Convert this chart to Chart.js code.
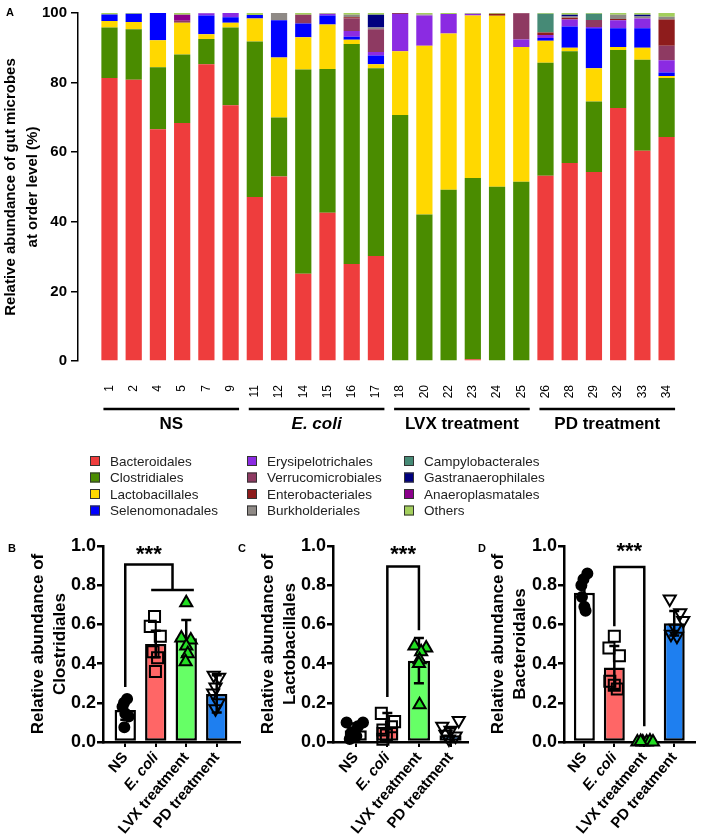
<!DOCTYPE html>
<html>
<head>
<meta charset="utf-8">
<title>Gut microbes at order level</title>
<script src="https://cdn.jsdelivr.net/npm/chart.js@4.4.1/dist/chart.umd.min.js"></script>
<style>
  body { margin: 0; background: #fff; }
  .wrap { position: relative; width: 705px; height: 840px; overflow: hidden; }
  canvas { position: absolute; }
</style>
</head>
<body>
<div class="wrap">
  <canvas id="chartA" width="705" height="522" style="left:0;top:0"></canvas>
  <canvas id="chartB" width="250" height="318" style="left:0;top:522px"></canvas>
  <canvas id="chartC" width="248" height="318" style="left:230px;top:522px"></canvas>
  <canvas id="chartD" width="227" height="318" style="left:478px;top:522px"></canvas>
</div>
<script>
// ---- Panel A: relative abundance (%) per mouse ----
const sampleIds = ['1', '2', '4', '5', '7', '9', '11', '12', '14', '15', '16', '17',
                   '18', '20', '22', '23', '24', '25', '26', '28', '29', '32', '33', '34'];
const groupNames = ['NS', 'E. coli', 'LVX treatment', 'PD treatment'];

const orderNames = ['Bacteroidales', 'Clostridiales', 'Lactobacillales', 'Selenomonadales',
                    'Erysipelotrichales', 'Verrucomicrobiales', 'Enterobacteriales', 'Burkholderiales',
                    'Campylobacterales', 'Gastranaerophilales', 'Anaeroplasmatales', 'Others'];

const bacteroidales      = [81.3, 80.8, 66.6, 68.4, 85.3, 73.5, 47.1, 53.0, 25.1, 42.6, 27.9, 30.2, 0, 0, 0, 0.5, 0, 0.2, 53.2, 56.9, 54.3, 72.7, 60.4, 64.4];
const clostridiales      = [14.5, 14.5, 17.8, 19.7, 7.2, 22.3, 44.7, 17.0, 58.7, 41.3, 63.2, 53.9, 70.7, 42.1, 49.2, 52.1, 50.1, 51.3, 32.5, 32.1, 20.3, 16.7, 26.2, 16.9];
const lactobacillales    = [1.9, 2.1, 7.8, 9.1, 1.4, 1.4, 6.6, 17.2, 9.2, 12.8, 1.2, 1.2, 18.3, 48.5, 44.9, 46.7, 49.1, 38.7, 6.3, 1.0, 9.5, 0.8, 3.4, 0.6];
const selenomonadales    = [1.9, 2.4, 7.8, 0, 5.4, 1.6, 1.0, 10.7, 4.0, 2.6, 0.9, 2.5, 0, 0, 0, 0, 0, 0, 0.8, 6.1, 11.5, 5.4, 5.6, 1.0];
const erysipelotrichales = [0, 0, 0, 0, 0.6, 1.2, 0, 0, 0, 0.5, 1.6, 1.0, 10.7, 8.7, 5.6, 0.5, 0, 2.2, 0.9, 2.0, 0.4, 2.3, 2.8, 3.5];
const verrucomicrobiales = [0, 0, 0, 0.6, 0, 0, 0, 0, 2.5, 0, 3.6, 6.5, 0.3, 0, 0, 0, 0, 7.5, 0, 0, 2.0, 0, 0, 4.2];
const enterobacteriales  = [0, 0, 0, 0, 0, 0, 0, 0, 0, 0, 0.4, 0, 0, 0, 0, 0, 0.6, 0.1, 0.7, 0.5, 0, 0.4, 0, 7.5];
const burkholderiales    = [0, 0, 0, 0, 0, 0, 0, 2.1, 0, 0, 0.7, 0.5, 0, 0.3, 0, 0, 0, 0, 0, 0.4, 0, 1.2, 0.6, 0.8];
const campylobacterales  = [0, 0, 0, 0, 0, 0, 0, 0, 0, 0, 0, 0, 0, 0, 0, 0, 0, 0, 5.4, 0, 1.8, 0, 0, 0];
const gastranaerophilales = [0, 0, 0, 0, 0, 0, 0, 0, 0, 0, 0, 3.7, 0, 0, 0, 0, 0, 0, 0, 0.5, 0, 0, 0.5, 0];
const anaeroplasmatales  = [0, 0, 0, 1.7, 0, 0, 0, 0, 0, 0, 0, 0, 0, 0, 0, 0, 0, 0, 0, 0, 0, 0, 0, 0];
const others             = [0.4, 0.2, 0, 0.5, 0.1, 0, 0.6, 0, 0.5, 0.2, 0.5, 0.5, 0, 0.4, 0.3, 0.2, 0.2, 0, 0.2, 0.5, 0.2, 0.5, 0.5, 1.1];

const orderValues = [bacteroidales, clostridiales, lactobacillales, selenomonadales, erysipelotrichales,
                     verrucomicrobiales, enterobacteriales, burkholderiales, campylobacterales,
                     gastranaerophilales, anaeroplasmatales, others];

// ---- Panels B-D: fraction per group (bar = mean, whisker = SD, markers = mice) ----
const clostridialesMean = [0.163, 0.500, 0.529, 0.245];
const clostridialesSd = [0.05, 0.068, 0.093, 0.095];
const clostridialesPoints = [
  [0.22, 0.20, 0.18, 0.145, 0.13, 0.075],
  [0.64, 0.59, 0.54, 0.46, 0.43, 0.36],
  [0.71, 0.53, 0.52, 0.49, 0.45, 0.41],
  [0.34, 0.33, 0.28, 0.25, 0.20, 0.17]
];

const lactobacillalesMean = [0.06, 0.078, 0.415, 0.035];
const lactobacillalesSd = [0.035, 0.07, 0.115, 0.035];
const lactobacillalesPoints = [
  [0.10, 0.10, 0.08, 0.05, 0.03, 0.015],
  [0.146, 0.104, 0.078, 0.061, 0.036, 0.014],
  [0.49, 0.48, 0.46, 0.42, 0.40, 0.19],
  [0.11, 0.08, 0.06, 0.04, 0.03, 0.015]
];

const bacteroidalesMean = [0.762, 0.38, 0.0, 0.606];
const bacteroidalesSd = [0.075, 0.11, 0.002, 0.062];
const bacteroidalesPoints = [
  [0.86, 0.83, 0.80, 0.74, 0.69, 0.67],
  [0.54, 0.48, 0.44, 0.31, 0.29, 0.27],
  [0, 0, 0, 0.005, 0, 0.002],
  [0.73, 0.66, 0.62, 0.58, 0.55, 0.54]
];

// styles
const FONT = '"Liberation Sans", Arial, sans-serif';
Chart.defaults.font.family = FONT;
Chart.defaults.color = '#000';

const orderColors = ['#ee3d3d', '#4a8c00', '#ffd800', '#0000ff', '#8b2be2', '#8e3a62',
                     '#8e1c1c', '#8f8a86', '#468a76', '#00007f', '#8b008b', '#a3cf5c'];
const groupFill = ['#ffffff', '#ff6666', '#66ff66', '#1e7ff0'];
const markerStyle = ['circle', 'rect', 'triangle', 'triangle'];
const markerRotation = [0, 0, 0, 180];
const markerRadius = [5, 7.8, 7, 7];
const markerFill = ['#000000', 'rgba(0,0,0,0)', '#22dd22', 'rgba(0,0,0,0)'];

// horizontal scatter of the markers inside each bar (x offset in bar units)
const jitterB = [[0.06, -0.04, -0.09, 0, 0.11, -0.03], [-0.04, -0.18, 0.15, -0.09, 0.06, -0.01],
                 [0, -0.16, 0.15, 0, 0.05, -0.02], [-0.1, 0.08, -0.04, -0.12, 0.06, -0.04]];
const jitterC = [[-0.29, 0.23, 0.07, -0.13, 0.02, -0.19], [-0.19, 0.23, 0.13, -0.14, -0.03, -0.14],
                 [-0.14, 0.23, 0.07, 0.02, 0, 0.02], [0.26, -0.26, 0, -0.16, 0.16, -0.05]];
const jitterD = [[0.1, -0.03, -0.1, -0.08, 0, 0.04], [0, -0.18, 0.17, -0.15, 0, 0.1],
                 [-0.23, -0.05, 0.08, 0.19, 0.29, -0.12], [-0.15, 0.2, 0.3, 0.04, -0.11, 0.09]];

// ---- panel A extras: group brackets under the ids, legend, letter ----
const panelAExtras = {
  id: 'panelAExtras',
  afterDraw(chart) {
    const ctx = chart.ctx;
    const xs = chart.scales.x;
    const base = chart.chartArea.bottom;
    ctx.save();
    ctx.strokeStyle = '#000';
    ctx.fillStyle = '#000';
    ctx.lineWidth = 2.5;
    groupNames.forEach((name, g) => {
      const x0 = xs.getPixelForValue(g * 6 - 0.25);
      const x1 = xs.getPixelForValue(g * 6 + 5 + 0.35);
      ctx.beginPath();
      ctx.moveTo(x0, base + 48);
      ctx.lineTo(x1, base + 48);
      ctx.stroke();
      ctx.font = (name === 'E. coli' ? 'italic ' : '') + 'bold 17px ' + FONT;
      ctx.textAlign = 'center';
      ctx.textBaseline = 'middle';
      ctx.fillText(name, (x0 + x1) / 2, base + 63);
    });

    // legend: three columns of four
    const colX = [90, 247, 404];
    const rowY = [461, 477.5, 494, 510.5];
    ctx.font = '13.5px ' + FONT;
    ctx.textAlign = 'left';
    ctx.lineWidth = 1;
    orderNames.forEach((name, k) => {
      const x = colX[Math.floor(k / 4)];
      const y = rowY[k % 4];
      ctx.fillStyle = orderColors[k];
      ctx.fillRect(x, y - 5, 10, 10);
      ctx.strokeStyle = '#333';
      ctx.strokeRect(x + 0.5, y - 4.5, 9, 9);
      ctx.fillStyle = '#222';
      ctx.fillText(name, x + 20, y + 1);
    });

    ctx.fillStyle = '#000';
    ctx.font = 'bold 11px ' + FONT;
    ctx.fillText('A', 6, 13);
    ctx.restore();
  }
};

new Chart(document.getElementById('chartA'), {
  type: 'bar',
  data: {
    datasets: orderNames.map((name, k) => ({
      label: name,
      data: orderValues[k].map((v, i) => ({ x: i, y: v })),
      backgroundColor: orderColors[k],
      borderWidth: 0,
      barPercentage: 0.67,
      categoryPercentage: 1
    }))
  },
  plugins: [panelAExtras],
  options: {
    responsive: false,
    animation: false,
    devicePixelRatio: 1,
    layout: { padding: { top: 5, left: 0, right: 0, bottom: 0 } },
    plugins: { legend: { display: false }, tooltip: { enabled: false } },
    scales: {
      x: {
        type: 'linear',
        stacked: true,
        min: -1.3,
        max: 23.48,
        offset: false,
        afterBuildTicks: s => { s.ticks = sampleIds.map((_, i) => ({ value: i })); },
        afterFit: s => { s.height = 161; },
        border: { display: false },
        grid: { display: false, drawTicks: false, offset: false },
        ticks: {
          autoSkip: false,
          minRotation: 90,
          maxRotation: 90,
          padding: 24,
          color: '#000',
          font: { size: 12 },
          callback: v => sampleIds[v]
        }
      },
      y: {
        stacked: true,
        min: 0,
        max: 100,
        afterFit: s => { s.width = 78; },
        border: { color: '#000', width: 1.5 },
        grid: { drawOnChartArea: false, tickLength: 7, color: '#000', lineWidth: 1.5 },
        ticks: { stepSize: 20, padding: 4, color: '#000', font: { size: 15, weight: 'bold' } },
        title: {
          display: true,
          text: ['Relative abundance of gut microbes', 'at order level (%)'],
          color: '#000',
          font: { size: 15, weight: 'bold', lineHeight: 1.45 },
          padding: { top: 0, bottom: 0 }
        }
      }
    }
  }
});

// ---- panels B-D ----
const dotBarExtras = {
  id: 'dotBarExtras',
  afterDatasetDraw(chart, args, opts) {
    if (args.index !== 0) return;
    const ys = chart.scales.y;
    const ctx = chart.ctx;
    ctx.save();
    ctx.strokeStyle = '#000';
    ctx.lineWidth = 2.5;
    args.meta.data.forEach((bar, i) => {
      const m = opts.means[i];
      const sd = opts.sds[i];
      const top = ys.getPixelForValue(m + sd);
      const bot = ys.getPixelForValue(Math.max(0, m - sd));
      ctx.beginPath();
      ctx.moveTo(bar.x, top); ctx.lineTo(bar.x, bot);
      ctx.moveTo(bar.x - 5, top); ctx.lineTo(bar.x + 5, top);
      ctx.moveTo(bar.x - 5, bot); ctx.lineTo(bar.x + 5, bot);
      ctx.stroke();
    });
    ctx.restore();
  },
  afterDraw(chart, args, opts) {
    const xs = chart.scales.x;
    const ys = chart.scales.y;
    const ctx = chart.ctx;
    ctx.save();
    ctx.strokeStyle = '#000';
    ctx.lineWidth = 2.5;
    opts.brackets.forEach(path => {
      ctx.beginPath();
      path.forEach(([x, y], j) => {
        const px = xs.getPixelForValue(x);
        const py = ys.getPixelForValue(y);
        if (j === 0) ctx.moveTo(px, py); else ctx.lineTo(px, py);
      });
      ctx.stroke();
    });
    ctx.fillStyle = '#000';
    ctx.font = 'bold 22px ' + FONT;
    ctx.textAlign = 'center';
    ctx.textBaseline = 'alphabetic';
    ctx.fillText('***', xs.getPixelForValue(opts.star[0]), ys.getPixelForValue(opts.star[1]) + 12);
    ctx.font = 'bold 11px ' + FONT;
    ctx.textAlign = 'left';
    ctx.fillText(opts.letter, opts.letterX, 30);
    ctx.restore();
  }
};

function makeDotBarChart(canvasId, p) {
  const datasets = [{
    type: 'bar',
    order: 1,
    data: p.means.map((m, i) => ({ x: i, y: m })),
    backgroundColor: groupFill,
    borderColor: '#000',
    borderWidth: 2.5,
    borderSkipped: false,
    barPercentage: 0.7,
    categoryPercentage: 1
  }];
  p.points.forEach((vals, g) => {
    datasets.push({
      type: 'scatter',
      order: 0,
      data: vals.map((v, j) => ({ x: g + p.jitter[g][j], y: v })),
      pointStyle: markerStyle[g],
      pointRotation: markerRotation[g],
      pointRadius: markerRadius[g],
      pointBackgroundColor: markerFill[g],
      pointBorderColor: '#000',
      pointBorderWidth: 2,
      clip: false
    });
  });

  return new Chart(document.getElementById(canvasId), {
    type: 'bar',
    data: { datasets },
    plugins: [dotBarExtras],
    options: {
      responsive: false,
      animation: false,
      devicePixelRatio: 1,
      layout: { padding: { top: 24, right: p.padRight, left: 0, bottom: 0 } },
      plugins: {
        legend: { display: false },
        tooltip: { enabled: false },
        dotBarExtras: {
          means: p.means, sds: p.sds, brackets: p.brackets, star: p.star,
          letter: p.letter, letterX: p.letterX
        }
      },
      scales: {
        x: {
          type: 'linear',
          min: p.xMin,
          max: p.xMax,
          offset: false,
          afterBuildTicks: s => { s.ticks = groupNames.map((_, i) => ({ value: i })); },
          afterFit: s => { s.height = 98; },
          border: { display: true, color: '#000', width: 2.5 },
          grid: { drawOnChartArea: false, drawTicks: true, tickLength: 5, color: '#000', lineWidth: 2, offset: false },
          ticks: {
            autoSkip: false,
            minRotation: 50,
            maxRotation: 50,
            padding: 2,
            color: '#000',
            font: c => ({ size: 15, weight: 'bold', style: c.index === 1 ? 'italic' : 'normal' }),
            callback: v => groupNames[v]
          }
        },
        y: {
          min: 0,
          max: 1,
          afterFit: s => { s.width = p.axisLeft; },
          border: { color: '#000', width: 2.5 },
          grid: { drawOnChartArea: false, tickLength: 6, color: '#000', lineWidth: 2.5 },
          ticks: { stepSize: 0.2, padding: 1, color: '#000', font: { size: 18, weight: 'bold' }, callback: v => v.toFixed(1) },
          title: {
            display: true,
            text: ['Relative abundance of', p.order],
            color: '#000',
            font: { size: 17, weight: 'bold', lineHeight: 1.3 },
            padding: { top: p.titlePad, bottom: 0 }
          }
        }
      }
    }
  });
}

makeDotBarChart('chartB', {
  order: 'Clostridiales', means: clostridialesMean, sds: clostridialesSd,
  points: clostridialesPoints, jitter: jitterB,
  axisLeft: 103, padRight: 2, xMin: -0.73, xMax: 3.77, titlePad: 27,
  brackets: [[[0, 0.28], [0, 0.905], [1.55, 0.905], [1.55, 0.775]], [[0.85, 0.775], [2.25, 0.775]]],
  star: [0.775, 0.985], letter: 'B', letterX: 8
});

makeDotBarChart('chartC', {
  order: 'Lactobacillales', means: lactobacillalesMean, sds: lactobacillalesSd,
  points: lactobacillalesPoints, jitter: jitterC,
  axisLeft: 103, padRight: 8, xMin: -0.72, xMax: 3.56, titlePad: 27,
  brackets: [[[1, 0.23], [1, 0.895], [2, 0.895], [2, 0.57]]],
  star: [1.5, 0.985], letter: 'C', letterX: 8
});

makeDotBarChart('chartD', {
  order: 'Bacteroidales', means: bacteroidalesMean, sds: bacteroidalesSd,
  points: bacteroidalesPoints, jitter: jitterD,
  axisLeft: 86, padRight: 0, xMin: -0.68, xMax: 3.7, titlePad: 9,
  brackets: [[[1, 0.59], [1, 0.893], [2, 0.893], [2, 0.08]]],
  star: [1.5, 1.0], letter: 'D', letterX: 0
});
</script>
</body>
</html>
